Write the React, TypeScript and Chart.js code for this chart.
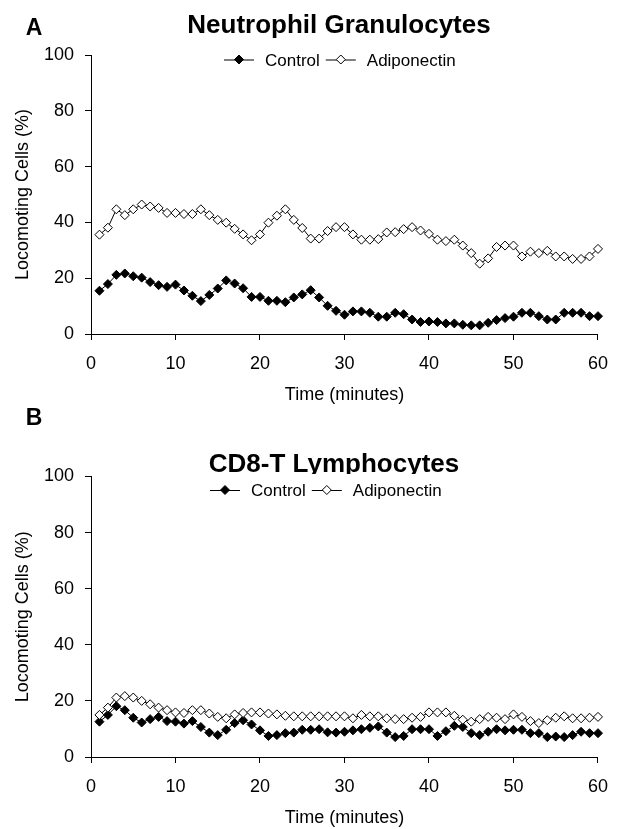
import React, { useEffect, useRef } from "react";
import { Chart, registerables } from "chart.js";

Chart.register(...registerables);

const FONT = '"Liberation Sans", Arial, Helvetica, sans-serif';

const minutes = [
  1, 2, 3, 4, 5, 6, 7, 8, 9, 10, 11, 12, 13, 14, 15, 16, 17, 18, 19, 20,
  21, 22, 23, 24, 25, 26, 27, 28, 29, 30, 31, 32, 33, 34, 35, 36, 37, 38, 39, 40,
  41, 42, 43, 44, 45, 46, 47, 48, 49, 50, 51, 52, 53, 54, 55, 56, 57, 58, 59, 60,
];

const seriesNames = ["Control", "Adiponectin"];

const neutroControl = [
  15.5, 17.9, 21.2, 21.7, 20.7, 20.2, 18.6, 17.5, 16.9, 17.7,
  15.6, 13.7, 11.8, 14.0, 16.3, 19.2, 18.1, 16.4, 13.3, 13.3,
  11.9, 11.9, 11.4, 13.1, 14.2, 15.7, 13.1, 10.1, 8.3, 6.9,
  8.1, 8.1, 7.6, 6.2, 6.2, 7.6, 7.1, 5.2, 4.3, 4.5,
  4.3, 3.8, 3.8, 3.3, 3.1, 3.1, 4.0, 5.0, 5.7, 6.2,
  7.6, 7.6, 6.4, 5.2, 5.2, 7.6, 7.6, 7.6, 6.4, 6.4,
];

const neutroAdipo = [
  35.6, 38.1, 44.7, 42.6, 44.7, 46.4, 45.7, 45.2, 43.4, 43.4,
  43.0, 43.0, 44.7, 42.6, 40.9, 39.9, 37.7, 35.7, 33.6, 35.7,
  39.9, 42.4, 44.7, 40.9, 38.0, 34.2, 34.2, 36.9, 38.3, 38.3,
  35.7, 33.8, 33.8, 34.0, 36.4, 36.5, 37.6, 38.3, 37.1, 35.9,
  33.8, 33.3, 33.8, 31.7, 29.0, 25.2, 27.1, 31.2, 31.7, 31.7,
  27.8, 29.5, 29.0, 29.8, 27.8, 27.8, 26.9, 26.9, 27.8, 30.5,
];

const cd8Control = [
  12.6, 15.0, 18.1, 16.7, 14.0, 12.3, 13.5, 14.3, 12.8, 12.6,
  11.9, 12.8, 10.7, 8.7, 7.8, 9.7, 12.1, 13.1, 11.6, 9.5,
  7.5, 7.8, 8.5, 8.7, 9.7, 9.7, 9.9, 8.8, 8.7, 9.0,
  9.5, 9.9, 10.4, 10.9, 8.7, 7.1, 7.5, 9.9, 9.9, 9.9,
  7.5, 9.2, 11.1, 10.7, 8.5, 7.8, 9.0, 9.9, 9.5, 9.7,
  9.7, 8.5, 8.5, 7.1, 7.3, 7.1, 7.8, 9.0, 8.5, 8.5,
];

const cd8Adipo = [
  15.0, 17.6, 21.2, 21.7, 21.2, 20.0, 18.8, 17.6, 16.7, 15.9,
  15.7, 16.7, 16.7, 15.5, 14.3, 13.8, 15.2, 15.7, 15.9, 15.9,
  15.5, 15.2, 14.7, 14.5, 14.5, 14.5, 14.5, 14.5, 14.5, 14.5,
  13.8, 15.0, 14.5, 14.5, 13.8, 13.5, 13.5, 14.0, 14.3, 15.9,
  15.9, 15.9, 14.7, 13.3, 12.6, 13.5, 14.3, 14.0, 13.5, 15.2,
  14.3, 12.8, 12.1, 13.1, 14.0, 14.5, 13.8, 13.8, 14.0, 14.3,
];

const xRange = [0, 60];
const xStep = 10;
const yRange = [0, 100];
const yStep = 20;

const yAxisTitle = "Locomoting Cells (%)";
const xAxisTitle = "Time (minutes)";

type Decor = {
  letter: string;
  letterY: number;
  title: string;
  titleX: number;
  titleY: number;
  legendX: number;
  legendY: number;
  mask: boolean;
};

function makeDecor(cfg: Decor) {
  return {
    id: "decor" + cfg.letter,
    afterDraw(chart: any) {
      const ctx: CanvasRenderingContext2D = chart.ctx;
      ctx.save();
      ctx.fillStyle = "#000";
      ctx.textBaseline = "alphabetic";
      ctx.textAlign = "center";
      ctx.font = `bold 23px ${FONT}`;
      ctx.fillText(cfg.letter, 34, cfg.letterY);
      ctx.font = `bold 26px ${FONT}`;
      ctx.fillText(cfg.title, cfg.titleX, cfg.titleY);
      const y = cfg.legendY;
      if (cfg.mask) {
        ctx.fillStyle = "#fff";
        ctx.fillRect(cfg.legendX - 6, cfg.titleY + 2, 260, y + 12 - (cfg.titleY + 2));
      }
      let x = cfg.legendX;
      ctx.font = `17px ${FONT}`;
      ctx.textAlign = "left";
      chart.data.datasets.forEach((ds: any) => {
        ctx.strokeStyle = "#000";
        ctx.lineWidth = 1;
        ctx.beginPath();
        ctx.moveTo(x, y + 0.5);
        ctx.lineTo(x + 30, y + 0.5);
        ctx.stroke();
        const cx = x + 15;
        const r = 4.5;
        ctx.beginPath();
        ctx.moveTo(cx, y - r);
        ctx.lineTo(cx + r, y);
        ctx.lineTo(cx, y + r);
        ctx.lineTo(cx - r, y);
        ctx.closePath();
        ctx.fillStyle = ds.pointBackgroundColor;
        ctx.fill();
        ctx.stroke();
        ctx.fillStyle = "#000";
        ctx.fillText(ds.label, x + 41, y + 6.1);
        x += 41 + ctx.measureText(ds.label).width + 6;
      });
      ctx.restore();
    },
  };
}

function buildConfig(control: number[], adipo: number[], padTop: number, decor: Decor): any {
  const toPts = (vals: number[]) => minutes.map((m, i) => ({ x: m, y: vals[i] }));
  const common = {
    borderColor: "#000",
    borderWidth: 1,
    tension: 0,
    pointStyle: "rectRot",
    pointRadius: 4.5,
    pointHoverRadius: 4.5,
    pointBorderColor: "#000",
    pointBorderWidth: 1,
    clip: false,
    fill: false,
  };
  return {
    type: "line",
    data: {
      datasets: [
        { ...common, label: seriesNames[0], data: toPts(control), pointBackgroundColor: "#000", order: 1 },
        { ...common, label: seriesNames[1], data: toPts(adipo), pointBackgroundColor: "#fff", order: 0 },
      ],
    },
    options: {
      animation: false,
      responsive: false,
      devicePixelRatio: 1,
      layout: { padding: { top: padTop, right: 9, left: 0, bottom: 0 } },
      plugins: { legend: { display: false }, title: { display: false }, tooltip: { enabled: false } },
      scales: {
        x: {
          type: "linear",
          min: xRange[0],
          max: xRange[1],
          afterFit: (s: any) => { s.height = 72; },
          ticks: { stepSize: xStep, color: "#000", font: { family: FONT, size: 18 }, padding: 13, maxRotation: 0 },
          grid: { drawOnChartArea: false, drawTicks: true, tickLength: 6, color: "#000", lineWidth: 1 },
          border: { display: true, color: "#000", width: 1 },
          title: { display: true, text: xAxisTitle, color: "#000", font: { family: FONT, size: 18 }, padding: { top: 0, bottom: 0 } },
        },
        y: {
          type: "linear",
          min: yRange[0],
          max: yRange[1],
          afterFit: (s: any) => { s.width = 91; },
          ticks: { stepSize: yStep, color: "#000", font: { family: FONT, size: 18 }, padding: 11 },
          grid: { drawOnChartArea: false, drawTicks: true, tickLength: 6, color: "#000", lineWidth: 1 },
          border: { display: true, color: "#000", width: 1 },
          title: { display: true, text: yAxisTitle, color: "#000", font: { family: FONT, size: 18 }, padding: { top: 12, bottom: 0 } },
        },
      },
    },
    plugins: [makeDecor(decor)],
  };
}

function Panel(props: { top: number; height: number; control: number[]; adipo: number[]; padTop: number; decor: Decor }) {
  const ref = useRef<HTMLCanvasElement | null>(null);
  useEffect(() => {
    if (!ref.current) return;
    const chart = new Chart(ref.current, buildConfig(props.control, props.adipo, props.padTop, props.decor));
    return () => chart.destroy();
  }, []);
  return (
    <canvas
      ref={ref}
      width={621}
      height={props.height}
      style={{ position: "absolute", left: 0, top: props.top, width: 621, height: props.height }}
    />
  );
}

export default function App() {
  return (
    <div style={{ position: "absolute", left: 0, top: 0, width: 621, height: 829, background: "#fff", overflow: "hidden" }}>
      <Panel
        top={0}
        height={406}
        control={neutroControl}
        adipo={neutroAdipo}
        padTop={55}
        decor={{ letter: "A", letterY: 35, title: "Neutrophil Granulocytes", titleX: 339, titleY: 32.5, legendX: 224, legendY: 59.5, mask: false }}
      />
      <Panel
        top={406}
        height={423}
        control={cd8Control}
        adipo={cd8Adipo}
        padTop={70.5}
        decor={{ letter: "B", letterY: 19, title: "CD8-T Lymphocytes", titleX: 334, titleY: 66, legendX: 210, legendY: 84, mask: true }}
      />
    </div>
  );
}
